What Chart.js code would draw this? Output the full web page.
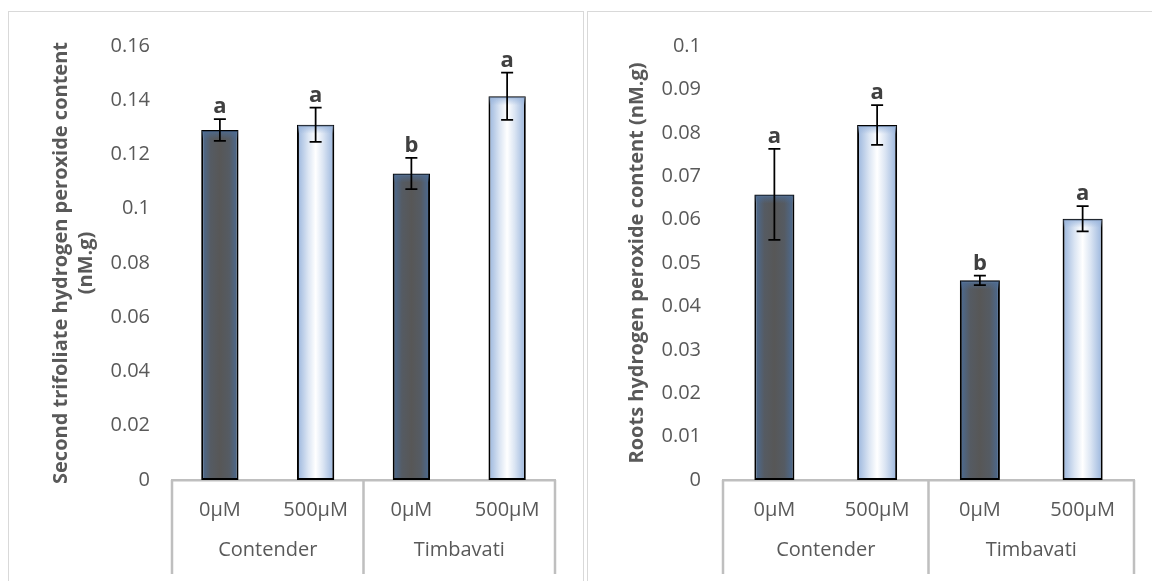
<!DOCTYPE html>
<html>
<head>
<meta charset="utf-8">
<script src="https://cdn.jsdelivr.net/npm/chart.js@4.4.0/dist/chart.umd.min.js"></script>
<style>
  html, body { margin: 0; background: #fff; overflow: hidden; }
  .box { position: absolute; top: 11px; height: 600px; border: 1px solid #d9d9d9; box-sizing: border-box; }
  .box canvas { display: block; }
  #leftBox { left: 8px; width: 576px; }
  #rightBox { left: 587px; width: 600px; }
</style>
</head>
<body>
<div class="box" id="leftBox"><canvas id="trifoliate" width="574" height="569"></canvas></div>
<div class="box" id="rightBox"><canvas id="roots" width="574" height="569"></canvas></div>
<script>
const treatments = ["0µM", "500µM", "0µM", "500µM"];
const cultivars = ["Contender", "Timbavati"];

const trifoliateH2O2 = [0.129, 0.131, 0.113, 0.1415];
const trifoliateErr = [0.004, 0.0063, 0.0058, 0.0087];
const trifoliateLetters = ["a", "a", "b", "a"];

const rootsH2O2 = [0.0658, 0.0818, 0.046, 0.0602];
const rootsErr = [0.0105, 0.0046, 0.0011, 0.0029];
const rootsLetters = ["a", "a", "b", "a"];

const GRAY = "#595959";
const BAR_PCT = 0.39;
const darkStops = [[0, "#4b6c96"], [0.25, "#555b63"], [0.5, "#575757"], [0.75, "#555b63"], [1, "#4b6c96"]];
const lightStops = [[0, "#98b4dc"], [0.3, "#dbe5f3"], [0.5, "#ffffff"], [0.7, "#dbe5f3"], [1, "#98b4dc"]];

Chart.defaults.font.family = "'Open Sans', sans-serif";

function barFill(context) {
  const chart = context.chart;
  const xs = chart.scales.x;
  const stops = context.dataIndex % 2 === 0 ? darkStops : lightStops;
  if (!chart.chartArea || !xs) return stops[2][1];
  const cx = xs.getPixelForValue(context.dataIndex);
  const w = (xs.width / chart.data.labels.length) * BAR_PCT;
  const g = chart.ctx.createLinearGradient(cx - w / 2, 0, cx + w / 2, 0);
  stops.forEach(([o, c]) => g.addColorStop(o, c));
  return g;
}

// error bars, significance letters and the group separators under the axis
const barDecor = {
  id: "barDecor",
  afterDatasetsDraw(chart, args, opts) {
    const ctx = chart.ctx;
    const y = chart.scales.y;
    const values = chart.data.datasets[0].data;
    ctx.save();
    chart.getDatasetMeta(0).data.forEach((bar, i) => {
      const p = bar.getProps(["x", "y", "width"], true);
      // soft top edge like the office path gradient
      const band = ctx.createLinearGradient(0, p.y, 0, p.y + 9);
      band.addColorStop(0, i % 2 === 0 ? "rgba(77,109,150,0.9)" : "rgba(152,180,220,0.9)");
      band.addColorStop(1, i % 2 === 0 ? "rgba(77,109,150,0)" : "rgba(152,180,220,0)");
      ctx.fillStyle = band;
      ctx.fillRect(p.x - p.width / 2 + 1, p.y + 1, p.width - 2, 9);

      const top = y.getPixelForValue(values[i] + opts.errors[i]);
      const bottom = y.getPixelForValue(values[i] - opts.errors[i]);
      ctx.strokeStyle = "#000";
      ctx.lineWidth = 1.75;
      ctx.beginPath();
      ctx.moveTo(p.x, top); ctx.lineTo(p.x, bottom);
      ctx.moveTo(p.x - 6, top); ctx.lineTo(p.x + 6, top);
      ctx.moveTo(p.x - 6, bottom); ctx.lineTo(p.x + 6, bottom);
      ctx.stroke();

      ctx.fillStyle = "#404040";
      ctx.font = "bold 22px 'Open Sans'";
      ctx.textAlign = "center";
      ctx.textBaseline = "alphabetic";
      ctx.fillText(opts.letters[i], p.x, top - 6);
    });
    ctx.restore();
  },
  afterDraw(chart) {
    const xs = chart.scales.x;
    const ctx = chart.ctx;
    const perGroup = treatments.length / cultivars.length;
    const half = (xs.getPixelForValue(1) - xs.getPixelForValue(0)) / 2;
    ctx.save();
    ctx.strokeStyle = "#bfbfbf";
    ctx.lineWidth = 2.5;
    ctx.beginPath();
    for (let g = 0; g <= cultivars.length; g++) {
      const px = xs.getPixelForValue(g * perGroup) - half;
      ctx.moveTo(px, chart.chartArea.bottom);
      ctx.lineTo(px, chart.height - 7);
    }
    ctx.stroke();
    ctx.restore();
  }
};

function makeChart(id, values, errors, letters, title, yMax, yStep, yWidth, titlePad) {
  const ctx = document.getElementById(id).getContext("2d");
  return new Chart(ctx, {
    type: "bar",
    data: {
      labels: treatments,
      datasets: [{
        data: values,
        backgroundColor: barFill,
        borderColor: "#000",
        borderWidth: 2,
        borderSkipped: false,
        barPercentage: BAR_PCT,
        categoryPercentage: 1
      }]
    },
    options: {
      responsive: false,
      animation: false,
      layout: { padding: { top: 29, right: 28, bottom: 19, left: 0 } },
      plugins: {
        legend: { display: false },
        tooltip: { enabled: false },
        barDecor: { errors: errors, letters: letters }
      },
      scales: {
        y: {
          min: 0,
          max: yMax,
          grid: { display: false, drawTicks: false },
          border: { display: false },
          ticks: {
            stepSize: yStep,
            color: GRAY,
            padding: 22,
            font: { size: 20 },
            callback: (v) => String(+v.toFixed(3))
          },
          title: {
            display: true,
            text: title,
            color: GRAY,
            font: { size: 20, weight: "bold", lineHeight: 1.25 },
            padding: { top: titlePad, bottom: 0 }
          },
          afterFit: (s) => { s.width = yWidth; }
        },
        x: {
          z: 1,
          grid: { display: false, drawTicks: false },
          border: { color: "#bfbfbf", width: 2.5 },
          ticks: { color: GRAY, padding: 18, font: { size: 20 }, maxRotation: 0, autoSkip: false },
          afterFit: (s) => { s.height = 42; }
        },
        x2: {
          type: "category",
          labels: cultivars,
          position: "bottom",
          offset: true,
          grid: { display: false, drawTicks: false },
          border: { display: false },
          ticks: { color: GRAY, padding: 16, font: { size: 20 }, maxRotation: 0, autoSkip: false },
          afterFit: (s) => { s.height = 40; }
        }
      }
    },
    plugins: [barDecor]
  });
}

makeChart("trifoliate", trifoliateH2O2, trifoliateErr, trifoliateLetters,
  ["Second trifoliate hydrogen peroxide content", "(nM.g)"], 0.16, 0.02, 163, 40);
makeChart("roots", rootsH2O2, rootsErr, rootsLetters,
  "Roots hydrogen peroxide content (nM.g)", 0.1, 0.01, 135, 37);
</script>
</body>
</html>
